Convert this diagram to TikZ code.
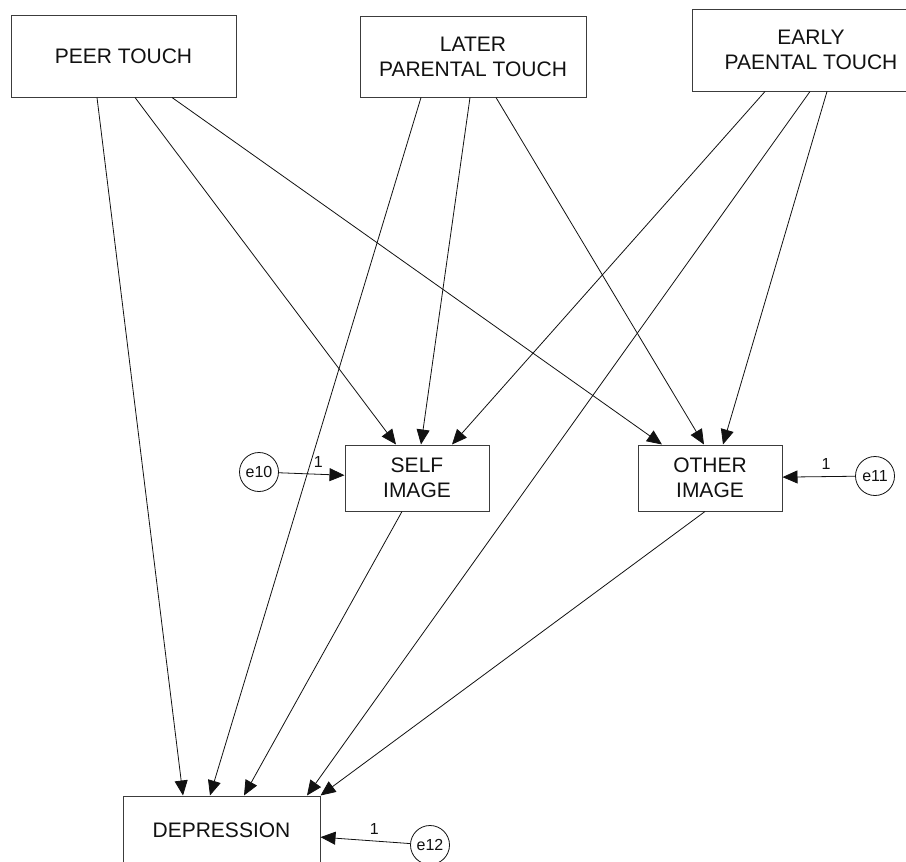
\documentclass[tikz,border=0pt]{standalone}
\usepackage{fontspec}
\setmainfont{Liberation Sans}
\usetikzlibrary{arrows.meta}
\definecolor{boxline}{HTML}{3C3C3C}
\definecolor{ink}{HTML}{111111}

\begin{document}
\begin{tikzpicture}[x=1pt, y=-1pt,
    every node/.style={text=ink},
    varbox/.style={draw=boxline, line width=1pt, rectangle, align=center, font=\fontsize{21}{25}\selectfont},
    errcirc/.style={draw=ink, line width=0.8pt, circle, inner sep=0pt, minimum size=39pt, font=\fontsize{16}{18}\selectfont},
    path/.style={draw=ink, line width=0.8pt, -{Triangle[length=15pt, width=13pt]}},
    one/.style={font=\fontsize{16}{18}\selectfont, above=3pt}]
      \useasboundingbox (0,0) rectangle (906,862);
      \clip (0,0) rectangle (906,862);
      % exogenous touch variables
      \node[varbox, minimum width=225pt, minimum height=82pt] (peer) at (123.5,56) {PEER TOUCH};
      \node[varbox, minimum width=226pt, minimum height=81pt] (later) at (473,56.5) {LATER\\PARENTAL TOUCH};
      \node[varbox, minimum width=238pt, minimum height=82pt] (early) at (811,50) {EARLY\\PAENTAL TOUCH};
      % mediators and outcome
      \node[varbox, minimum width=144pt, minimum height=66pt] (self) at (417,478) {SELF\\IMAGE};
      \node[varbox, minimum width=144pt, minimum height=66pt] (other) at (710,478) {OTHER\\IMAGE};
      \node[varbox, minimum width=197pt, minimum height=68pt] (dep) at (221.5,830) {DEPRESSION};
      % error terms
      \node[errcirc] (e10) at (259,472) {e10};
      \node[errcirc] (e11) at (875,476) {e11};
      \node[errcirc] (e12) at (430,845) {e12};
      % paths into self image
      \draw[path] ([xshift=11.5pt]peer.south) -- ([xshift=-21pt]self.north);
      \draw[path] ([xshift=-3pt]later.south) -- ([xshift=4pt]self.north);
      \draw[path] ([xshift=-46pt]early.south) -- ([xshift=35pt]self.north);
      % paths into other image
      \draw[path] ([xshift=48.5pt]peer.south) -- ([xshift=-48pt]other.north);
      \draw[path] ([xshift=23pt]later.south) -- ([xshift=-6pt]other.north);
      \draw[path] ([xshift=16pt]early.south) -- ([xshift=13pt]other.north);
      % paths into depression
      \draw[path] ([xshift=-26.5pt]peer.south) -- ([xshift=-38.5pt]dep.north);
      \draw[path] ([xshift=-52pt]later.south) -- ([xshift=-11.5pt]dep.north);
      \draw[path] ([xshift=-15pt]self.south) -- ([xshift=22.5pt]dep.north);
      \draw[path] ([xshift=-1pt]early.south) -- ([xshift=85.5pt]dep.north);
      \draw[path] ([xshift=-5pt]other.south) -- (dep.north east);
      % residuals
      \draw[path] (e10) -- node[one, pos=0.6] {1} (self);
      \draw[path] (e11) -- node[one, pos=0.4] {1} (other);
      \draw[path] (e12) -- node[one, pos=0.4] {1} (dep);
    \end{tikzpicture}
\end{document}
